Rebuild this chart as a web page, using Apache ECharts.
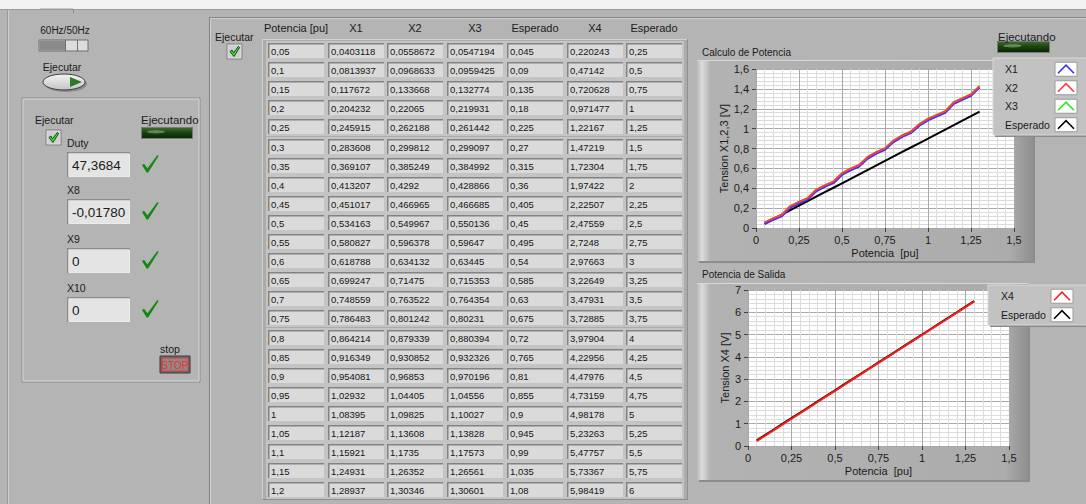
<!DOCTYPE html>
<html>
<head>
<meta charset="utf-8">
<script src="https://cdn.jsdelivr.net/npm/echarts@6/dist/echarts.min.js"></script>
<style>
  html, body { margin: 0; padding: 0; background: #b4b4b4; }
  #panel { width: 1086px; height: 504px; }
</style>
</head>
<body>
<div id="panel"></div>
<script>
// ---- measured data ----
const potencia   = [0.05, 0.1, 0.15, 0.2, 0.25, 0.3, 0.35, 0.4, 0.45, 0.5, 0.55, 0.6, 0.65, 0.7, 0.75, 0.8, 0.85, 0.9, 0.95, 1, 1.05, 1.1, 1.15, 1.2, 1.25, 1.3];
const x1         = [0.0403118, 0.0813937, 0.117672, 0.204232, 0.245915, 0.283608, 0.369107, 0.413207, 0.451017, 0.534163, 0.580827, 0.618788, 0.699247, 0.748559, 0.786483, 0.864214, 0.916349, 0.954081, 1.02932, 1.08395, 1.12187, 1.15921, 1.24931, 1.28937, 1.3298, 1.4125];
const x2         = [0.0558672, 0.0968633, 0.133668, 0.22065, 0.262188, 0.299812, 0.385249, 0.4292, 0.466965, 0.549967, 0.596378, 0.634132, 0.71475, 0.763522, 0.801242, 0.879339, 0.930852, 0.96853, 1.04405, 1.09825, 1.13608, 1.1735, 1.26352, 1.30346, 1.3442, 1.4271];
const x3         = [0.0547194, 0.0959425, 0.132774, 0.219931, 0.261442, 0.299097, 0.384992, 0.428866, 0.466685, 0.550136, 0.59647, 0.63445, 0.715353, 0.764354, 0.80231, 0.880394, 0.932326, 0.970196, 1.04556, 1.10027, 1.13828, 1.17573, 1.26561, 1.30601, 1.3468, 1.4299];
const esperado13 = [0.045, 0.09, 0.135, 0.18, 0.225, 0.27, 0.315, 0.36, 0.405, 0.45, 0.495, 0.54, 0.585, 0.63, 0.675, 0.72, 0.765, 0.81, 0.855, 0.9, 0.945, 0.99, 1.035, 1.08, 1.125, 1.17];
const x4         = [0.220243, 0.47142, 0.720628, 0.971477, 1.22167, 1.47219, 1.72304, 1.97422, 2.22507, 2.47559, 2.7248, 2.97663, 3.22649, 3.47931, 3.72885, 3.97904, 4.22956, 4.47976, 4.73159, 4.98178, 5.23263, 5.47757, 5.73367, 5.98419, 6.2346, 6.4851];
const esperado4  = [0.25, 0.5, 0.75, 1, 1.25, 1.5, 1.75, 2, 2.25, 2.5, 2.75, 3, 3.25, 3.5, 3.75, 4, 4.25, 4.5, 4.75, 5, 5.25, 5.5, 5.75, 6, 6.25, 6.5];

const tableHeaders = ['Potencia [pu]', 'X1', 'X2', 'X3', 'Esperado', 'X4', 'Esperado'];
const visibleRows = 24;

const xTicks   = [0, 0.25, 0.5, 0.75, 1, 1.25, 1.5];
const y1Ticks  = [0, 0.2, 0.4, 0.6, 0.8, 1, 1.2, 1.4, 1.6];
const y2Ticks  = [0, 1, 2, 3, 4, 5, 6, 7];

const plot1Names  = ['X1', 'X2', 'X3', 'Esperado'];
const plot1Colors = ['#3333ff', '#ff3b3b', '#1fee1f', '#000000'];
const plot2Names  = ['X4', 'Esperado'];
const plot2Colors = ['#ff1a1a', '#000000'];

const indicatorLabels = ['Duty', 'X8', 'X9', 'X10'];
const indicatorValues = ['47,3684', '-0,01780', '0', '0'];

// ---- helpers ----
const FONT = '"Liberation Sans", Arial, sans-serif';
const fmt = v => String(v).replace('.', ',');
const G = [];
function rect(x, y, w, h, style, z) {
  G.push({ type: 'rect', z: z == null ? -10 : z, silent: true, shape: { x, y, width: w, height: h }, style });
}
function line(x1, y1, x2, y2, stroke, lw, z) {
  G.push({ type: 'line', z: z == null ? -9 : z, silent: true, shape: { x1, y1, x2, y2 }, style: { stroke, lineWidth: lw || 1 } });
}
function poly(points, style, z) {
  G.push({ type: 'polygon', z: z == null ? -8 : z, silent: true, shape: { points }, style });
}
function polyline(points, style, z) {
  G.push({ type: 'polyline', z: z == null ? -8 : z, silent: true, shape: { points }, style: Object.assign({ fill: null }, style) });
}
function text(x, y, t, size, opt, z) {
  G.push({
    type: 'text', z: z == null ? -7 : z, silent: true, x, y,
    style: Object.assign({
      text: t, fill: '#1b1b1b', font: size + 'px ' + FONT,
      align: 'left', verticalAlign: 'middle', textAlign: 'left', textVerticalAlign: 'middle'
    }, opt || {})
  });
}
function sunken(x, y, w, h, fill) {
  rect(x, y, w, h, { fill: '#8c8c8c' });
  rect(x + 1.5, y + 1.5, w - 1.5, h - 1.5, { fill: '#ececec' });
  rect(x + 1.5, y + 1.5, w - 2.5, h - 2.5, { fill });
}
function smallCheckbox(x, y) {
  rect(x, y, 15, 15, { fill: '#e2e2e2', stroke: '#7f7f7f', lineWidth: 1 });
  rect(x + 1.5, y + 1.5, 12, 12, { fill: '#cfcfcf' });
  const p = [[0, 5], [2, 3.5], [3.6, 6.3], [8.3, 0], [9.6, 1], [4, 10]].map(([a, b]) => [x + 3 + a, y + 2.5 + b]);
  poly(p, { fill: '#34e034', stroke: '#0d3a0d', lineWidth: 0.9 });
}
function bigCheck(x, y) {
  const p = [[0, 10], [2, 8.8], [5.5, 13.2], [15.4, 0], [16.6, 0.9], [6.2, 17.5], [4.6, 17.5]].map(([a, b]) => [x + a, y + b]);
  poly(p, { fill: '#128a12' });
}
function led(x, y, w, h, z) {
  rect(x - 1, y - 1, w + 2, h + 2, { fill: '#7a7a7a' }, z);
  rect(x, y, w, h, {
    fill: new echarts.graphic.LinearGradient(0, 0, 0, 1, [
      { offset: 0, color: '#3d6a2c' }, { offset: 0.45, color: '#1b4410' }, { offset: 1, color: '#0a2605' }
    ])
  }, z);
  G.push({ type: 'ellipse', z: (z == null ? -10 : z) + 0.5, silent: true,
    shape: { cx: x + w * 0.28, cy: y + h * 0.38, rx: w * 0.18, ry: h * 0.16 },
    style: { fill: 'rgba(220,255,210,0.35)' } });
}

// ---- panel background ----
rect(0, 0, 1086, 9, { fill: '#f2f2f2' });
line(0, 9.5, 1086, 9.5, '#9c9c9c');
line(40, 8.5, 73, 8.5, '#c9c9c9');
line(73.5, 9, 73.5, 13, '#8a8a8a');
line(7.5, 10, 7.5, 504, '#9a9a9a');
line(8.5, 10, 8.5, 504, '#cfcfcf');
// right section border
line(209.5, 17, 209.5, 504, '#858585');
line(210.5, 18, 210.5, 504, '#d0d0d0');
line(209, 17.5, 1086, 17.5, '#858585');
line(210, 18.5, 1086, 18.5, '#d0d0d0');

// ---- left controls ----
text(65, 30, '60Hz/50Hz', 10, { align: 'center', textAlign: 'center' });
rect(39, 40, 49, 11, { fill: '#dcdcdc', stroke: '#6f6f6f', lineWidth: 1 });
rect(39.5, 40.5, 26, 10, { fill: '#8b8b8b' });
line(65.5, 40, 65.5, 51, '#6f6f6f');
line(77.5, 40, 77.5, 51, '#6f6f6f');

text(62, 67, 'Ejecutar', 10.5, { align: 'center', textAlign: 'center' });
G.push({ type: 'ellipse', z: -10, silent: true, shape: { cx: 66, cy: 84, rx: 21, ry: 8 }, style: { fill: '#8a8a8a' } });
G.push({ type: 'ellipse', z: -9.5, silent: true, shape: { cx: 64, cy: 82, rx: 21, ry: 8 },
  style: { fill: new echarts.graphic.LinearGradient(0, 0, 0, 1, [{ offset: 0, color: '#f4f4f4' }, { offset: 1, color: '#c4c4c4' }]), stroke: '#3c3c3c', lineWidth: 1 } });
poly([[70, 77], [82, 82], [70, 87]], { fill: '#2c7a2c' }, -9);

// inner box
rect(22, 98, 178, 284, { fill: 'none', stroke: '#8a8a8a', lineWidth: 1 });
rect(23, 99, 176, 282, { fill: 'none', stroke: '#d6d6d6', lineWidth: 1 });

text(35, 120, 'Ejecutar', 10.5);
smallCheckbox(46, 130);
text(141, 120, 'Ejecutando', 11.5);
led(142, 128, 50, 10);

const boxTops = [152, 199, 248, 297];
indicatorLabels.forEach((lab, i) => {
  const top = boxTops[i];
  text(67, top - 9, lab, 10.5);
  sunken(67, top, 63, 25, '#e4e4e4');
  text(72, top + 13, indicatorValues[i], 13.5);
  bigCheck(142, top + 3);
});

text(170, 349, 'stop', 10.5, { align: 'center', textAlign: 'center' });
rect(160, 356, 30, 17, { fill: '#6d6d6d', stroke: '#3a3a3a', lineWidth: 1 });
rect(162, 358, 26, 13, { fill: '#8a8a8a', stroke: '#e03a3a', lineWidth: 1 });
text(175, 365, 'STOP', 10, { align: 'center', textAlign: 'center', fill: '#ff2a2a' });

// ---- table section ----
text(215, 37, 'Ejecutar', 10.5);
smallCheckbox(227, 44);

rect(262, 39, 426, 461, { fill: '#acacac' });
line(262.5, 39, 262.5, 500, '#d2d2d2');
line(262, 39.5, 688, 39.5, '#d2d2d2');
line(687.5, 39, 687.5, 500, '#8e8e8e');
line(262, 499.5, 688, 499.5, '#8e8e8e');

const tableCols = [potencia, x1, x2, x3, esperado13, x4, esperado4];
const colX = c => Math.round(268 + c * 59.7);
const rowY = r => Math.round(43 + r * 19.1);
tableHeaders.forEach((h, c) => {
  text(colX(c) + 28, 28, h, 11, { align: 'center', textAlign: 'center' });
});
for (let r = 0; r < visibleRows; r++) {
  for (let c = 0; c < tableCols.length; c++) {
    const x = colX(c), y = rowY(r), w = 56, h = 15;
    rect(x - 2, y - 2, w + 4, h + 4, { fill: '#c4c4c4' });
    rect(x, y, w, h, { fill: '#838383' });
    rect(x + 1.5, y + 1.5, w - 1.5, h - 1.5, { fill: '#dadada' });
    text(x + 3, y + 8, fmt(tableCols[c][r]), 9.5, { fill: '#151515' });
  }
}

// ---- graph frames ----
function frame(x, y, w, h) {
  rect(x + 2, y + 2, w, h, { fill: '#8c8c8c' });
  rect(x, y, w, h, {
    fill: new echarts.graphic.LinearGradient(0, 0, 1, 0, [
      { offset: 0, color: '#b8b8b8' }, { offset: 0.015, color: '#dcdcdc' }, { offset: 0.04, color: '#b2b2b2' },
      { offset: 0.93, color: '#acacac' }, { offset: 1, color: '#8f8f8f' }
    ])
  });
  line(x, y + 0.5, x + w, y + 0.5, '#d8d8d8');
}
text(702, 52, 'Calculo de Potencia', 10);
frame(697, 60, 336, 201);
text(702, 274, 'Potencia de Salida', 10);
frame(697, 283, 331, 197);

text(998, 37, 'Ejecutando', 11.5);
led(998, 42, 51, 10);

// legends drawn above the plot area
function legend(x, y, w, rowH, names, colors, nameX, swX) {
  const h = rowH * names.length + 3;
  rect(x + 2, y + 2, w, h, { fill: '#8a8a8a' }, 40);
  rect(x, y, w, h, { fill: '#c2c2c2', stroke: '#d8d8d8', lineWidth: 1 }, 41);
  names.forEach((n, i) => {
    const cy = y + 2 + rowH * i + rowH / 2;
    text(nameX, cy, n, 10.5, {}, 43);
    rect(swX, cy - 7, 22, 14, { fill: '#ffffff', stroke: '#9a9a9a', lineWidth: 1 }, 42);
    polyline([[swX + 3, cy + 4], [swX + 11, cy - 4], [swX + 19, cy + 4]], { stroke: colors[i], lineWidth: 1.6 }, 43);
  });
}
legend(993, 58, 95, 18.5, plot1Names, plot1Colors, 1005, 1055);
legend(988, 285, 100, 18.5, plot2Names, plot2Colors, 1001, 1051);

// ---- charts ----
const pairs = ys => potencia.map((p, i) => [p, ys[i]]);
function axisX(gi) {
  return {
    type: 'value', gridIndex: gi, min: 0, max: 1.5, interval: 0.25,
    name: 'Potencia  [pu]', nameLocation: 'middle', nameGap: 19,
    nameTextStyle: { fontFamily: FONT, fontSize: 11, color: '#1b1b1b' },
    axisLine: { show: false },
    axisTick: { show: true, length: 4, lineStyle: { color: '#404040' } },
    axisLabel: { margin: 6, fontFamily: FONT, fontSize: 11, color: '#1b1b1b', formatter: v => fmt(v) },
    splitLine: { show: true, lineStyle: { color: '#a9a9a9', width: 1 } },
    minorTick: { show: false, splitNumber: 5 },
    minorSplitLine: { show: true, lineStyle: { color: '#dcdcdc', width: 1 } }
  };
}
function axisY(gi, max, interval, name, gap) {
  return {
    type: 'value', gridIndex: gi, min: 0, max, interval,
    name, nameLocation: 'middle', nameGap: gap, nameRotate: 90,
    nameTextStyle: { fontFamily: FONT, fontSize: 11, color: '#1b1b1b' },
    axisLine: { show: false },
    axisTick: { show: true, length: 4, lineStyle: { color: '#404040' } },
    axisLabel: { margin: 7, fontFamily: FONT, fontSize: 11, color: '#1b1b1b', formatter: v => fmt(+v.toFixed(2)) },
    splitLine: { show: true, lineStyle: { color: '#a9a9a9', width: 1 } },
    minorTick: { show: false, splitNumber: 5 },
    minorSplitLine: { show: true, lineStyle: { color: '#dcdcdc', width: 1 } }
  };
}
const lineSeries = (name, ys, color, xi) => ({
  name, type: 'line', xAxisIndex: xi, yAxisIndex: xi, data: pairs(ys),
  showSymbol: false, symbol: 'none', silent: true,
  lineStyle: { color, width: 2 }, itemStyle: { color }
});

const chart = echarts.init(document.getElementById('panel'), null, { renderer: 'svg', width: 1086, height: 504 });
chart.setOption({
  animation: false,
  backgroundColor: '#b4b4b4',
  grid: [
    { left: 756, top: 69, width: 258, height: 159, show: true, backgroundColor: '#ffffff', borderWidth: 0 },
    { left: 748, top: 290, width: 261, height: 156, show: true, backgroundColor: '#ffffff', borderWidth: 0 }
  ],
  xAxis: [axisX(0), axisX(1)],
  yAxis: [
    axisY(0, y1Ticks[y1Ticks.length - 1], y1Ticks[1] - y1Ticks[0], 'Tension X1,2,3 [V]', 24),
    axisY(1, y2Ticks[y2Ticks.length - 1], y2Ticks[1] - y2Ticks[0], 'Tension X4 [V]', 16)
  ],
  series: [
    lineSeries(plot1Names[3], esperado13, plot1Colors[3], 0),
    lineSeries(plot1Names[2], x3, plot1Colors[2], 0),
    lineSeries(plot1Names[0], x1, plot1Colors[0], 0),
    lineSeries(plot1Names[1], x2, plot1Colors[1], 0),
    lineSeries(plot2Names[1], esperado4, plot2Colors[1], 1),
    lineSeries(plot2Names[0], x4, plot2Colors[0], 1)
  ],
  graphic: { elements: G }
});
</script>
</body>
</html>
